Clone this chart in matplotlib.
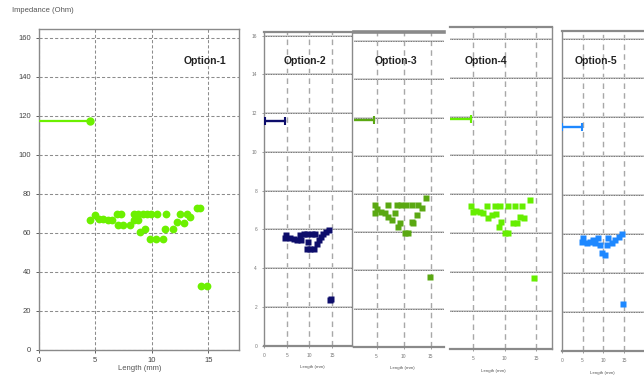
import matplotlib
matplotlib.use("Agg")
import matplotlib.pyplot as plt

plt.rcParams["font.family"] = ["Liberation Sans", "DejaVu Sans"]

W, H = 644, 382

# ── data ───────────────────────────────────────────────────────
options = ["Option-1", "Option-2", "Option-3", "Option-4", "Option-5"]
colors = ["#6cf000", "#0d0d6b", "#5aa812", "#66ee00", "#1e88ff"]

# flat segment (start, end, level)
seg_x0 = [0.0, 0.0, 0.9, 1.3, 0.0]
seg_x1 = [4.5, 4.7, 4.6, 4.6, 4.8]
seg_y = [117.5, 116.0, 118.5, 118.6, 115.0]

opt1_x = [4.5, 5.0, 5.3, 5.7, 6.1, 6.5, 6.9, 7.3, 7.0, 7.5, 8.1, 8.4, 8.8, 9.2, 9.6, 9.9,
          8.4, 8.8, 9.0, 9.4, 9.85, 10.4, 11.0, 10.5, 11.3, 11.2, 11.9, 12.2, 12.5, 12.9,
          13.1, 13.4, 14.0, 14.3, 14.4, 14.9]
opt1_y = [66.7, 69.0, 67.2, 66.9, 66.6, 66.3, 69.4, 69.4, 64.1, 64.0, 64.0, 69.4, 69.4, 69.4, 69.4, 69.4,
          66.3, 66.3, 60.4, 62.0, 57.0, 57.0, 57.0, 69.4, 69.4, 62.0, 62.0, 65.4, 69.4, 64.8,
          69.4, 68.0, 72.8, 72.8, 32.7, 32.7]

opt2_x = [4.6, 4.9, 5.7, 6.5, 7.2, 7.9, 8.2, 8.7, 9.4, 9.7, 9.4, 10.2, 10.9, 10.5, 11.2,
          11.6, 12.0, 12.6, 12.9, 13.7, 14.3, 14.6, 14.7]
opt2_y = [55.3, 57.0, 55.3, 54.8, 54.4, 57.0, 54.4, 57.8, 57.8, 53.7, 50.1, 49.6, 49.6, 57.8, 57.8,
          52.6, 54.4, 56.1, 57.8, 58.6, 59.9, 23.5, 23.8]

opt3_x = [4.7, 4.8, 5.1, 5.9, 6.5, 7.1, 7.1, 7.8, 8.4, 8.7, 9.0, 9.3, 9.6, 10.2, 10.8, 10.5,
          11.5, 11.8, 11.5, 12.4, 12.7, 13.3, 14.2, 14.8]
opt3_y = [74.2, 69.8, 72.0, 70.7, 69.8, 74.2, 68.0, 66.3, 69.8, 74.2, 62.8, 64.6, 74.2, 59.7, 59.7, 74.2,
          65.4, 64.6, 74.2, 69.0, 74.2, 72.4, 77.7, 36.3]

opt4_x = [4.7, 5.0, 5.5, 6.1, 6.6, 7.2, 7.4, 8.0, 8.5, 8.7, 9.1, 9.5, 10.0, 10.6, 9.3, 10.6,
          11.4, 11.9, 11.6, 12.4, 12.8, 13.1, 14.1, 14.7]
opt4_y = [73.9, 70.9, 71.4, 70.9, 70.1, 73.9, 67.5, 69.2, 73.9, 69.6, 63.2, 65.8, 59.8, 59.8, 73.9, 73.9,
          64.9, 64.9, 73.9, 68.4, 73.9, 67.5, 77.0, 36.6]

opt5_x = [4.8, 5.2, 6.0, 6.8, 7.6, 8.0, 8.8, 9.2, 9.6, 10.4, 10.8, 11.2, 12.0, 12.8, 13.6,
          14.4, 14.6]
opt5_y = [56.0, 57.8, 55.2, 56.0, 56.9, 55.2, 57.8, 54.4, 50.1, 49.3, 54.4, 57.8, 55.2, 56.9, 58.6,
          60.0, 24.1]

pts_x = [opt1_x, opt2_x, opt3_x, opt4_x, opt5_x]
pts_y = [opt1_y, opt2_y, opt3_y, opt4_y, opt5_y]

y_ticks = [0, 20, 40, 60, 80, 100, 120, 140, 160]
x_ticks = [0, 5, 10, 15]
small_y_labels = ["0", "2", "4", "6", "8", "10", "12", "14", "16"]

# ── panel geometry (pixels: left, top, right, bottom) ──────────
boxes = [(38.7, 29, 239.3, 349.7),
         (264, 31.7, 351.7, 345.6),
         (354.3, 31.7, 444.3, 346.7),
         (450, 27.3, 551.7, 349.3),
         (561.7, 31, 644, 351)]
xlims = [(0, 17.75), (0, 19.3), (0.9, 17.5), (1.3, 17.5), (0, 19.7)]
ylims = [(0, 164.5), (0, 162), (0, 165), (0, 166), (0, 164)]
label_pos = [(205, 61), (305, 61), (396, 61), (486, 61), (596, 61)]
xlabel_pos = [(140, 369), (312, 367), (402, 368), (493, 371), (602, 373)]

fig = plt.figure(figsize=(W / 100, H / 100), dpi=100)
fig.patch.set_facecolor("white")


def px_axes(box):
    l, t, r, b = box
    return fig.add_axes([l / W, 1 - b / H, (r - l) / W, (b - t) / H])


for i in range(5):
    ax = px_axes(boxes[i])
    ax.set_xlim(*xlims[i])
    ax.set_ylim(*ylims[i])
    c = colors[i]

    if i == 0:
        ax.grid(True, color="#8c8c8c", lw=0.75, linestyle=(0, (3, 2)))
        ax.set_axisbelow(True)
        for s in ax.spines.values():
            s.set_color("#8a8a8a")
            s.set_linewidth(1.0)
        ax.set_xticks(x_ticks)
        ax.set_yticks(y_ticks)
        ax.tick_params(labelsize=5.5, colors="#444444", length=2, width=0.6)
        ax.plot([seg_x0[i], seg_x1[i]], [seg_y[i]] * 2, color=c, lw=1.6, zorder=3)
        ax.plot([seg_x1[i]], [seg_y[i]], "o", color=c, ms=5, zorder=3)
        ax.plot(pts_x[i], pts_y[i], "o", color=c, ms=5.6, mec="none", zorder=3)
    else:
        ax.set_xticks([t for t in x_ticks if t >= xlims[i][0]])
        for v in x_ticks:
            if v > xlims[i][0]:
                ax.plot([v, v], list(ylims[i]), color="#a8a8a8", lw=1.0,
                        linestyle=(0, (4, 3)), zorder=1)
        for v in y_ticks:
            ax.axhline(v, color="#d2d2d2", lw=1.4, zorder=1)
            ax.axhline(v, color="#555555", lw=0.6, linestyle=(0, (1, 1)), zorder=1.5)
        for s in ax.spines.values():
            s.set_color("#8a8a8a")
            s.set_linewidth(1.0)
        ax.spines["bottom"].set_linewidth(1.6)
        ax.spines["top"].set_linewidth(1.6 if i != 2 else 2.6)
        if i == 2:
            ax.spines["left"].set_visible(False)
            ax.spines["right"].set_visible(False)
        if i == 3:
            ax.spines["left"].set_visible(False)
        if i == 4:
            ax.spines["right"].set_visible(False)
        ax.tick_params(axis="x", labelsize=3.5, colors="#777777", length=1.5, width=0.5)
        if i == 1:
            ax.set_yticks(y_ticks)
            ax.set_yticklabels(small_y_labels)
            ax.tick_params(axis="y", labelsize=3.5, colors="#777777", length=1.5, width=0.5)
        else:
            ax.set_yticks([])

        ax.plot([seg_x0[i], seg_x1[i]], [seg_y[i]] * 2, color=c, lw=1.7, zorder=3)
        ax.plot([seg_x1[i]], [seg_y[i]], "|", color=c, ms=5.5, mew=1.5, zorder=3)
        if i in (1, 4):
            ax.plot([seg_x0[i] + 0.15], [seg_y[i]], "|", color=c, ms=5.5, mew=1.5, zorder=3)
        ax.plot(pts_x[i], pts_y[i], "s", color=c, ms=4.4, mec="none", zorder=3)

    fig.text(label_pos[i][0] / W, 1 - label_pos[i][1] / H, options[i],
             ha="center", va="center", fontsize=7.5, fontweight="bold", color="#222222")
    fig.text(xlabel_pos[i][0] / W, 1 - xlabel_pos[i][1] / H, "Length (mm)",
             ha="center", va="center", fontsize=5.5 if i == 0 else 3.2, color="#555555")

fig.text(12 / W, 1 - 10 / H, "Impedance (Ohm)", ha="left", va="center",
         fontsize=5.5, color="#555555")

fig.savefig("out.png", dpi=100, facecolor="white")
